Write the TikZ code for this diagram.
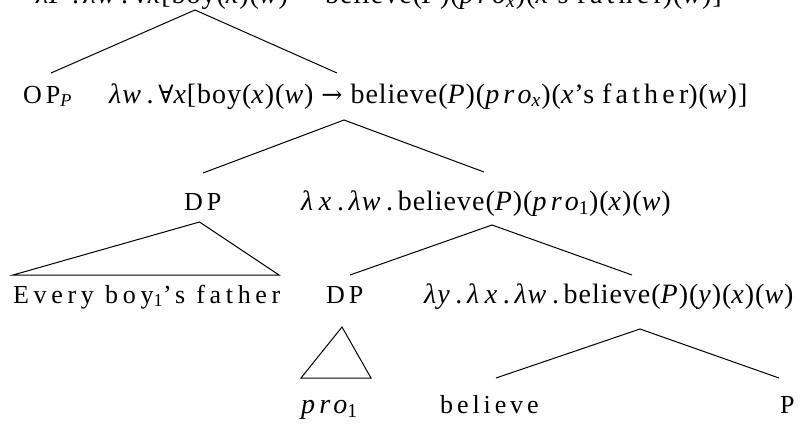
\documentclass[tikz,border=0pt]{standalone}
\usepackage{fontspec}
\setmainfont{Liberation Serif}
\newfontfamily\spaced[LetterSpace=15]{Liberation Serif}
\newfontfamily\spacedw[LetterSpace=18]{Liberation Serif}
\newfontfamily\mtxt[LetterSpace=3.5]{Liberation Serif}
\newfontfamily\symf[Scale=0.9]{DejaVu Serif}
\newcommand{\ii}[1]{\textit{#1}}
\newcommand{\lam}{\textit{λ}}
\newcommand{\fa}{{\symf ∀}}
\newcommand{\rarr}{{\symf →}}
\newcommand{\prox}[1]{{\spaced\itshape pro}\textsubscript{#1}}
\begin{document}
\begin{tikzpicture}[x=1pt,y=-1pt,
  lbl/.style={inner sep=0pt, font=\fontsize{26}{30}\selectfont},
  mlbl/.style={inner sep=0pt, font=\fontsize{28}{32}\selectfont\mtxt},
  br/.style={line width=1pt, line join=miter}]
\useasboundingbox (0,0) rectangle (802,425);
\clip (0,0) rectangle (802,425);
% labels
\node[mlbl, anchor=base east] (top) at (722,4) {\lam\ii{P}\,.\,\lam\ii{w}\,.\,\fa\ii{x}[boy(\ii{x})(\ii{w}) \rarr\ believe(\ii{P})(\prox{\ii{x}})(\ii{x}’s {\spaced father})(\ii{w})]};
\node[lbl, anchor=base west] (op) at (23,103) {{\spaced OP}\textsubscript{\ii{P}}};
\node[mlbl, anchor=base west] (s1) at (109,103) {\lam\ii{w}\,.\,\fa\ii{x}[boy(\ii{x})(\ii{w}) \rarr\ believe(\ii{P})(\prox{\ii{x}})(\ii{x}’s {\spaced father})(\ii{w})]};
\node[lbl, anchor=base west] (dp1) at (184,210) {{\spaced DP}};
\node[mlbl, anchor=base west] (s2) at (301,210) {\lam\,\ii{x}\,.\,\lam\ii{w}\,.\,believe(\ii{P})(\prox{1})(\ii{x})(\ii{w})};
\node[lbl, anchor=base west] (every) at (13,303) {{\spacedw Every boy}\textsubscript{1}{\spacedw ’s father}};
\node[lbl, anchor=base west] (dp2) at (326,303) {{\spaced DP}};
\node[mlbl, anchor=base west] (s3) at (424,303) {\lam\ii{y}\,.\,\lam\,\ii{x}\,.\,\lam\ii{w}\,.\,believe(\ii{P})(\ii{y})(\ii{x})(\ii{w})};
\node[mlbl, anchor=base west] (pro) at (301,413) {\prox{1}};
\node[lbl, anchor=base west] (believe) at (440,413) {{\spaced believe}};
\node[lbl, anchor=base west] (p) at (780,413) {P};
% branch points
\coordinate (a0) at (195,10);  \coordinate (l0) at (51,73);   \coordinate (r0) at (337,73);
\coordinate (a1) at (344,120); \coordinate (l1) at (203,173); \coordinate (r1) at (484,172);
\coordinate (t1) at (199.5,222); \coordinate (t1l) at (13,275); \coordinate (t1r) at (279,275);
\coordinate (a2) at (492,225); \coordinate (l2) at (350,275); \coordinate (r2) at (632,275);
\coordinate (t2) at (342,327); \coordinate (t2l) at (301,378); \coordinate (t2r) at (371,378);
\coordinate (a3) at (640,329); \coordinate (l3) at (496,378); \coordinate (r3) at (779,378);
\draw[br] (l0) -- (a0) -- (r0);
\draw[br] (l1) -- (a1) -- (r1);
\draw[br] (t1l) -- (t1) -- (t1r) -- cycle;
\draw[br] (l2) -- (a2) -- (r2);
\draw[br] (t2l) -- (t2) -- (t2r) -- cycle;
\draw[br] (l3) -- (a3) -- (r3);
\end{tikzpicture}
\end{document}
